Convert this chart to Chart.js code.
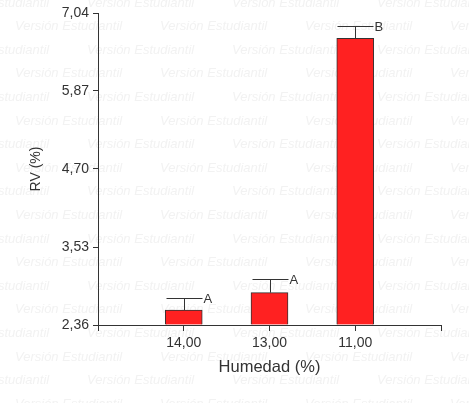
<!DOCTYPE html>
<html>
<head>
<meta charset="utf-8">
<script src="https://cdn.jsdelivr.net/npm/chart.js@4/dist/chart.umd.min.js"></script>
<style>
html,body{margin:0;padding:0;background:#fff;}
canvas{display:block;}
</style>
</head>
<body>
<canvas id="c" width="469" height="403"></canvas>
<script>
const categories = ['', '14,00', '13,00', '11,00', ''];
const rvMeans = [null, 2.585, 2.845, 6.66, null];
const rvErrorTop = [null, 2.76, 3.045, 6.845, null];
const groupLetters = [null, 'A', 'A', 'B', null];
const yTickValues = [2.36, 3.53, 4.70, 5.87, 7.04];
const yMin = 2.36, yMax = 7.04;

const FONT = '"Liberation Sans", Arial, sans-serif';
const INK = '#333333';

const watermark = {
  id: 'watermark',
  beforeDraw(chart) {
    const ctx = chart.ctx;
    ctx.save();
    ctx.fillStyle = '#ffffff';
    ctx.fillRect(0, 0, chart.width, chart.height);
    ctx.font = 'italic 13px ' + FONT;
    ctx.fillStyle = '#f2f2f2';
    ctx.textBaseline = 'middle';
    const text = 'Versión Estudiantil';
    for (let r = 0; r < 18; r++) {
      const y = 3 + r * 23.6;
      const off = (r % 2 === 0) ? -58 : 15;
      for (let x = off; x < chart.width; x += 145) {
        ctx.fillText(text, x, y);
      }
    }
    ctx.restore();
  }
};

const errorBars = {
  id: 'errorBars',
  afterDatasetsDraw(chart) {
    const ctx = chart.ctx;
    const xs = chart.scales.x, ys = chart.scales.y;
    ctx.save();
    ctx.strokeStyle = INK;
    ctx.lineWidth = 1;
    ctx.fillStyle = INK;
    ctx.font = '13px ' + FONT;
    ctx.textBaseline = 'middle';
    rvMeans.forEach((v, i) => {
      if (v === null) return;
      const cx = Math.round(xs.getPixelForValue(i)) + 0.5;
      const yTop = Math.round(ys.getPixelForValue(rvErrorTop[i])) + 0.5;
      const yBar = ys.getPixelForValue(v);
      ctx.beginPath();
      ctx.moveTo(cx, yBar);
      ctx.lineTo(cx, yTop);
      ctx.moveTo(cx - 18, yTop);
      ctx.lineTo(cx + 18, yTop);
      ctx.stroke();
      ctx.fillText(groupLetters[i], cx + 19, yTop + 1);
    });
    ctx.restore();
  }
};

new Chart(document.getElementById('c'), {
  type: 'bar',
  data: {
    labels: categories,
    datasets: [{
      data: rvMeans,
      base: yMin,
      backgroundColor: '#ff2121',
      borderColor: INK,
      borderWidth: 1,
      barThickness: 37
    }]
  },
  options: {
    responsive: false,
    animation: false,
    layout: { padding: { left: 28, top: 13, right: 28, bottom: 26 } },
    plugins: { legend: { display: false }, tooltip: { enabled: false } },
    scales: {
      x: {
        offset: false,
        grid: { display: true, offset: false, drawOnChartArea: false, drawTicks: true, tickLength: 6, color: INK },
        border: { display: true, color: INK, width: 1 },
        ticks: { color: INK, font: { family: FONT, size: 14 }, padding: 4, maxRotation: 0, autoSkip: false },
        title: { display: true, text: 'Humedad (%)', color: INK, font: { family: FONT, size: 16.5 }, padding: { top: 4, bottom: 0 } },
        afterFit(s) { s.height = 52; }
      },
      y: {
        min: yMin,
        max: yMax,
        afterBuildTicks(s) { s.ticks = yTickValues.map(v => ({ value: v })); },
        grid: { display: true, drawOnChartArea: false, drawTicks: true, tickLength: 5, color: INK },
        border: { display: true, color: INK, width: 1 },
        ticks: {
          color: INK, font: { family: FONT, size: 14 }, padding: 4,
          callback: (v) => Number(v).toFixed(2).replace('.', ',')
        },
        title: { display: true, text: 'RV (%)', color: INK, font: { family: FONT, size: 14 }, padding: 0 },
        afterFit(s) { s.width = 70; }
      }
    }
  },
  plugins: [watermark, errorBars]
});
</script>
</body>
</html>
